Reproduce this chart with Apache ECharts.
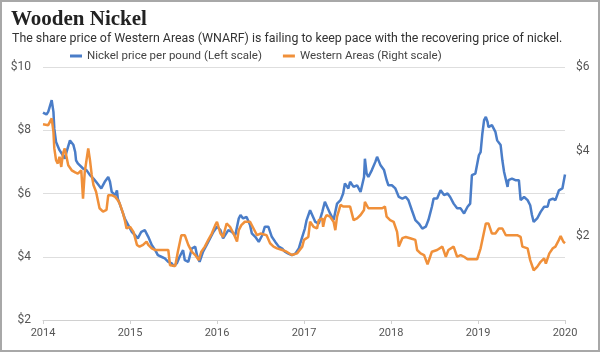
<!DOCTYPE html>
<html>
<head>
  <meta charset="utf-8">
  <title>Wooden Nickel</title>
  <script src="https://cdn.jsdelivr.net/npm/echarts@6/dist/echarts.min.js"></script>
  <style>
    html, body { margin: 0; padding: 0; background: #fff; }
  </style>
</head>
<body>
  <div id="main" style="width: 600px;height:352px;"></div>

  <script>
    // Nickel price per pound (USD), left scale
    const nickelYears = [
      2014.00, 2014.04, 2014.06, 2014.10, 2014.12, 2014.13, 2014.15, 2014.17, 2014.19, 2014.23,
      2014.25, 2014.27, 2014.31, 2014.33, 2014.35, 2014.37, 2014.38, 2014.40, 2014.42, 2014.46,
      2014.50, 2014.54, 2014.58, 2014.61, 2014.67, 2014.71, 2014.75, 2014.77, 2014.79, 2014.83,
      2014.85, 2014.86, 2014.90, 2014.94, 2014.98, 2015.02, 2015.06, 2015.09, 2015.13, 2015.17,
      2015.21, 2015.25, 2015.29, 2015.32, 2015.36, 2015.40, 2015.44, 2015.48, 2015.50, 2015.54,
      2015.57, 2015.61, 2015.63, 2015.67, 2015.71, 2015.75, 2015.77, 2015.80, 2015.84, 2015.88,
      2015.92, 2015.96, 2016.00, 2016.04, 2016.07, 2016.09, 2016.13, 2016.17, 2016.21, 2016.25,
      2016.27, 2016.30, 2016.34, 2016.38, 2016.40, 2016.44, 2016.48, 2016.52, 2016.55, 2016.59,
      2016.63, 2016.67, 2016.71, 2016.75, 2016.78, 2016.82, 2016.86, 2016.90, 2016.94, 2016.96,
      2016.98, 2017.01, 2017.03, 2017.07, 2017.09, 2017.13, 2017.17, 2017.21, 2017.24, 2017.26,
      2017.30, 2017.34, 2017.38, 2017.42, 2017.45, 2017.47, 2017.51, 2017.53, 2017.57, 2017.61,
      2017.65, 2017.69, 2017.70, 2017.72, 2017.74, 2017.78, 2017.82, 2017.84, 2017.88, 2017.92,
      2017.95, 2017.97, 2018.01, 2018.05, 2018.09, 2018.13, 2018.17, 2018.20, 2018.24, 2018.28,
      2018.32, 2018.36, 2018.40, 2018.43, 2018.47, 2018.49, 2018.53, 2018.57, 2018.59, 2018.61,
      2018.65, 2018.68, 2018.70, 2018.72, 2018.76, 2018.80, 2018.84, 2018.88, 2018.91, 2018.93,
      2018.97, 2019.01, 2019.03, 2019.05, 2019.07, 2019.09, 2019.11, 2019.12, 2019.14, 2019.16,
      2019.20, 2019.22, 2019.26, 2019.28, 2019.30, 2019.34, 2019.35, 2019.39, 2019.43, 2019.47,
      2019.49, 2019.53, 2019.57, 2019.60, 2019.62, 2019.64, 2019.68, 2019.72, 2019.76, 2019.80,
      2019.82, 2019.86, 2019.89, 2019.93, 2019.97, 2020.00
    ];
    const nickelPrice = [
      8.56, 8.50, 8.58, 8.95, 8.58, 8.05, 7.63, 7.58, 7.37, 7.20,
      7.10, 7.31, 7.68, 7.63, 7.53, 7.31, 7.05, 6.95, 6.90, 6.79,
      6.74, 6.58, 6.47, 6.37, 6.16, 6.37, 6.52, 6.37, 6.05, 5.95,
      6.10, 5.84, 5.53, 5.21, 5.00, 4.79, 4.68, 4.58, 4.79, 4.84,
      4.63, 4.37, 4.21, 4.05, 4.00, 3.95, 3.84, 3.79, 3.70, 3.80,
      4.00, 4.21, 3.89, 3.84, 4.26, 4.32, 4.05, 3.84, 4.16, 4.37,
      4.58, 4.79, 4.95, 4.84, 4.58, 4.53, 4.84, 4.79, 4.68, 5.21,
      5.32, 5.21, 5.26, 5.00, 4.74, 4.63, 4.47, 4.68, 4.95, 4.95,
      4.63, 4.47, 4.32, 4.26, 4.16, 4.10, 4.05, 4.10, 4.26, 4.45,
      4.63, 4.89, 5.16, 5.47, 5.47, 5.10, 5.05, 5.42, 5.74, 5.79,
      5.37, 5.16, 5.68, 5.79, 6.00, 6.32, 6.16, 6.37, 6.21, 6.26,
      6.05, 6.52, 7.10, 6.63, 6.52, 6.74, 7.00, 7.16, 6.89, 6.74,
      6.42, 6.26, 6.26, 6.16, 5.89, 5.84, 5.89, 5.79, 5.47, 5.16,
      5.05, 4.89, 4.95, 5.16, 5.58, 5.84, 5.84, 6.10, 6.16, 5.95,
      6.00, 5.89, 5.95, 5.68, 5.53, 5.53, 5.37, 5.58, 5.68, 6.58,
      6.63, 7.21, 7.31, 7.89, 8.32, 8.42, 8.26, 8.10, 8.05, 8.16,
      7.95, 7.68, 7.53, 7.05, 6.68, 6.21, 6.42, 6.47, 6.42, 6.42,
      5.79, 5.89, 5.79, 5.63, 5.32, 5.10, 5.21, 5.42, 5.58, 5.58,
      5.79, 5.84, 5.79, 6.10, 6.16, 6.60
    ];

    // Western Areas share price (USD), right scale
    const waYears = [
      2014.00, 2014.06, 2014.10, 2014.12, 2014.13, 2014.15, 2014.17, 2014.19, 2014.21, 2014.23,
      2014.25, 2014.27, 2014.29, 2014.33, 2014.37, 2014.40, 2014.44, 2014.46, 2014.48, 2014.50,
      2014.52, 2014.54, 2014.56, 2014.58, 2014.61, 2014.65, 2014.69, 2014.73, 2014.75, 2014.79,
      2014.83, 2014.86, 2014.88, 2014.92, 2014.94, 2014.96, 2015.00, 2015.04, 2015.08, 2015.11,
      2015.15, 2015.19, 2015.21, 2015.25, 2015.29, 2015.44, 2015.46, 2015.52, 2015.55, 2015.59,
      2015.63, 2015.67, 2015.71, 2015.75, 2015.79, 2015.82, 2015.86, 2015.90, 2015.94, 2015.98,
      2016.00, 2016.04, 2016.07, 2016.11, 2016.15, 2016.19, 2016.23, 2016.25, 2016.28, 2016.32,
      2016.38, 2016.42, 2016.46, 2016.50, 2016.57, 2016.61, 2016.65, 2016.69, 2016.75, 2016.80,
      2016.86, 2016.92, 2016.98, 2017.00, 2017.05, 2017.07, 2017.11, 2017.15, 2017.17, 2017.21,
      2017.22, 2017.24, 2017.26, 2017.30, 2017.34, 2017.36, 2017.38, 2017.42, 2017.45, 2017.53,
      2017.57, 2017.61, 2017.65, 2017.69, 2017.70, 2017.74, 2017.90, 2017.93, 2017.95, 2017.99,
      2018.03, 2018.07, 2018.09, 2018.13, 2018.17, 2018.22, 2018.28, 2018.30, 2018.34, 2018.38,
      2018.42, 2018.45, 2018.47, 2018.53, 2018.59, 2018.63, 2018.66, 2018.72, 2018.76, 2018.80,
      2018.84, 2018.88, 2018.99, 2019.03, 2019.05, 2019.09, 2019.12, 2019.16, 2019.20, 2019.24,
      2019.28, 2019.32, 2019.45, 2019.49, 2019.51, 2019.57, 2019.60, 2019.64, 2019.68, 2019.72,
      2019.76, 2019.78, 2019.82, 2019.86, 2019.89, 2019.93, 2019.95, 2019.98, 2020.00
    ];
    const waPrice = [
      4.64, 4.62, 4.78, 4.46, 4.07, 3.79, 3.71, 3.87, 3.63, 3.95,
      4.07, 3.87, 3.67, 3.55, 3.50, 3.47, 3.55, 2.88, 3.51, 3.79,
      4.07, 3.79, 3.44, 3.20, 3.04, 2.65, 2.57, 2.61, 2.96, 2.96,
      2.92, 2.84, 2.77, 2.53, 2.37, 2.17, 2.21, 2.09, 1.78, 1.74,
      1.78, 1.86, 1.78, 1.70, 1.66, 1.66, 1.30, 1.28, 1.62, 2.01,
      2.01, 1.78, 1.62, 1.54, 1.42, 1.62, 1.74, 1.90, 2.05, 2.25,
      2.33, 2.05, 1.97, 2.29, 2.21, 2.05, 1.86, 2.13, 2.25, 2.33,
      2.33, 2.17, 2.01, 2.05, 2.01, 1.82, 1.74, 1.70, 1.66, 1.62,
      1.54, 1.58, 1.74, 1.90, 1.97, 2.33, 2.21, 2.17, 2.37, 2.41,
      2.21, 2.41, 2.49, 2.45, 2.33, 2.13, 2.45, 2.73, 2.69, 2.69,
      2.37, 2.41, 2.49, 2.61, 2.80, 2.65, 2.65, 2.69, 2.45, 2.37,
      2.33, 2.09, 1.74, 1.94, 1.97, 1.94, 1.90, 1.66, 1.58, 1.54,
      1.32, 1.50, 1.62, 1.66, 1.74, 1.50, 1.66, 1.74, 1.50, 1.54,
      1.50, 1.44, 1.44, 1.70, 1.74, 2.29, 2.29, 2.05, 2.05, 2.17,
      2.17, 2.01, 2.01, 1.97, 1.74, 1.70, 1.42, 1.18, 1.26, 1.38,
      1.46, 1.34, 1.58, 1.70, 1.74, 1.90, 1.99, 1.86, 1.82
    ];

    const yearTicks = [2014, 2015, 2016, 2017, 2018, 2019, 2020];
    const leftTicks = [2, 4, 6, 8, 10];
    const rightTicks = [0, 2, 4, 6];

    const zip = (xs, ys) => xs.map((x, i) => [x, ys[i]]);

    const chart = echarts.init(document.getElementById("main"));
    const option = {
      animation: false,
      backgroundColor: "#fff",
      title: [
        {
          text: "Wooden Nickel",
          left: 6, top: 4,
          textStyle: { fontFamily: "Liberation Serif", fontWeight: "bold", fontSize: 21, color: "#222" }
        },
        {
          text: "The share price of Western Areas (WNARF) is failing to keep pace with the recovering price of nickel.",
          left: 7, top: 28,
          textStyle: { fontFamily: "Roboto", fontWeight: "normal", fontSize: 12.4, color: "#333" }
        }
      ],
      legend: {
        left: 65, top: 45,
        itemWidth: 12, itemHeight: 3, itemGap: 21,
        icon: "rect",
        textStyle: { fontFamily: "Roboto", fontSize: 11.5, color: "#444" },
        data: ["Nickel price per pound (Left scale)", "Western Areas (Right scale)"]
      },
      graphic: [{
        type: "rect", silent: true, z: 100,
        shape: { x: 1, y: 1, width: 598, height: 350 },
        style: { fill: "none", stroke: "#a8a8a8", lineWidth: 2 }
      }],
      grid: { left: 43, right: 35, top: 67, bottom: 32 },
      xAxis: {
        type: "value",
        min: yearTicks[0], max: yearTicks[yearTicks.length - 1], interval: 1,
        axisLine: { show: true, lineStyle: { color: "#d0d0d0" } },
        axisTick: { show: true, length: 4, lineStyle: { color: "#d0d0d0" } },
        splitLine: { show: false },
        axisLabel: {
          fontFamily: "Roboto", fontSize: 11, color: "#555", margin: 8,
          formatter: v => String(v)
        }
      },
      yAxis: [
        {
          type: "value",
          min: leftTicks[0], max: leftTicks[leftTicks.length - 1], interval: 2,
          axisLine: { show: false }, axisTick: { show: false },
          splitLine: { lineStyle: { color: "#dedede" } },
          axisLabel: { fontFamily: "Roboto", fontSize: 12, color: "#555", margin: 12, formatter: v => "$" + v }
        },
        {
          type: "value",
          min: rightTicks[0], max: rightTicks[rightTicks.length - 1], interval: 2,
          position: "right",
          axisLine: { show: false }, axisTick: { show: false },
          splitLine: { show: false },
          axisLabel: {
            fontFamily: "Roboto", fontSize: 12, color: "#555", margin: 11,
            formatter: v => (v === 0 ? "" : "$" + v)
          }
        }
      ],
      series: [
        {
          name: "Nickel price per pound (Left scale)",
          type: "line", yAxisIndex: 0, showSymbol: false,
          color: "#4a7dc8",
          lineStyle: { width: 2.5, color: "#4a7dc8" },
          data: zip(nickelYears, nickelPrice)
        },
        {
          name: "Western Areas (Right scale)",
          type: "line", yAxisIndex: 1, showSymbol: false,
          color: "#f0903a",
          lineStyle: { width: 2.5, color: "#f0903a" },
          data: zip(waYears, waPrice)
        }
      ]
    };
    chart.setOption(option);
  </script>
</body>
</html>
